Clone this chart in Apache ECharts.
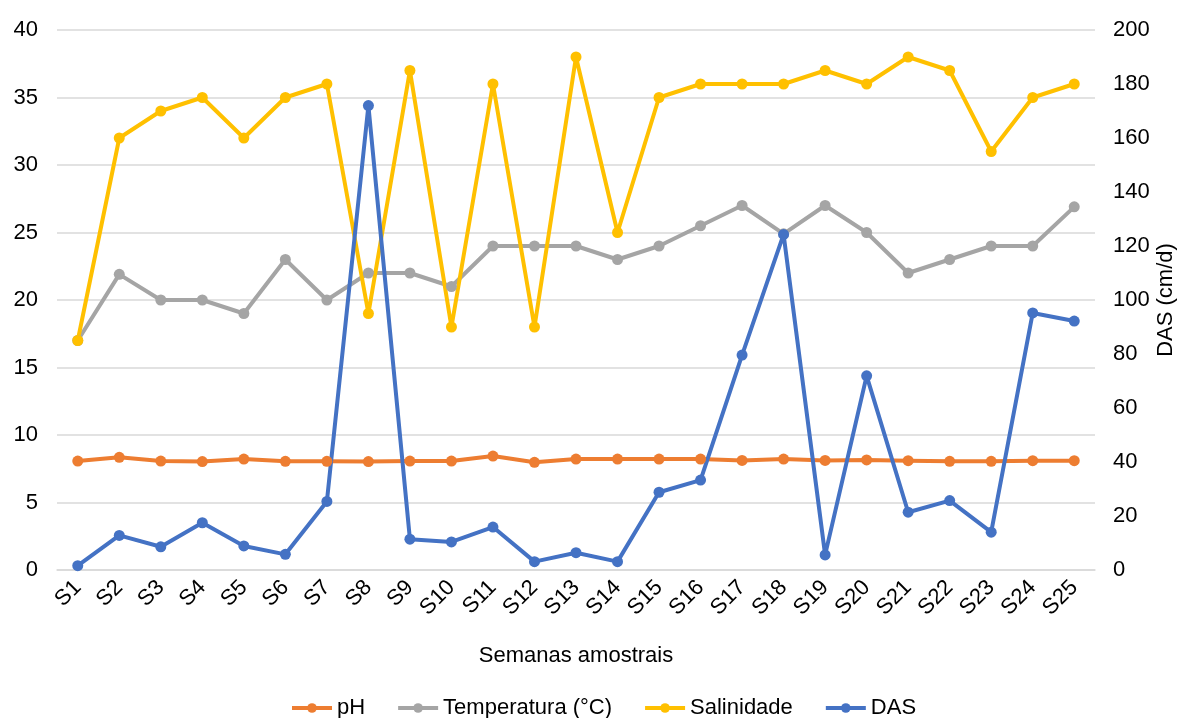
<!DOCTYPE html>
<html>
<head>
<meta charset="utf-8">
<script src="https://cdn.jsdelivr.net/npm/echarts@6/dist/echarts.min.js"></script>
<style>
html,body{margin:0;padding:0;background:#fff;}
#chart{width:1184px;height:718px;}
</style>
</head>
<body>
<div id="chart"></div>
<script>
const categories = ['S1','S2','S3','S4','S5','S6','S7','S8','S9','S10','S11','S12','S13','S14','S15','S16','S17','S18','S19','S20','S21','S22','S23','S24','S25'];
const ph = [8.07,8.35,8.07,8.03,8.22,8.05,8.05,8.03,8.07,8.07,8.44,7.98,8.22,8.22,8.22,8.22,8.12,8.22,8.12,8.15,8.1,8.05,8.05,8.1,8.1];
const temperatura = [17,21.9,20,20,19,23,20,22,22,21,24,24,24,23,24,25.5,27,24.9,27,25,22,23,24,24,26.9];
const salinidade = [17,32,34,35,32,35,36,19,37,18,36,18,38,25,35,36,36,36,37,36,38,37,31,35,36];
const das = [1.6,12.8,8.6,17.5,8.9,5.8,25.4,172,11.4,10.4,15.9,3.1,6.4,3.1,28.8,33.3,79.6,124.3,5.6,71.9,21.4,25.7,14.0,95.2,92.2];
const leftTicks = {min:0, max:40, interval:5};
const rightTicks = {min:0, max:200, interval:20};

const FONT = 'Liberation Sans, Arial, sans-serif';
const FS = 22;
function line(name, data, color, yIdx){
  return {name, type:'line', data, yAxisIndex:yIdx, symbol:'circle', symbolSize:11,
    lineStyle:{color, width:4}, itemStyle:{color}, emphasis:{disabled:true}};
}
const chart = echarts.init(document.getElementById('chart'));
chart.setOption({
  animation:false,
  textStyle:{fontFamily:FONT},
  grid:{left:57, right:89, top:30, bottom:148, containLabel:false, outerBoundsMode:'none'},
  legend:{bottom:-6, left:285, itemWidth:40, itemHeight:12, itemGap:31,
    lineStyle:{width:4},
    textStyle:{fontSize:FS, color:'#000', fontFamily:FONT},
    data:['pH','Temperatura (°C)','Salinidade','DAS']},
  xAxis:{type:'category', data:categories, boundaryGap:true,
    axisLine:{show:true, lineStyle:{color:'#D9D9D9', width:1.5}}, axisTick:{show:false},
    axisLabel:{rotate:45, fontSize:FS, color:'#000', fontFamily:FONT, margin:14, interval:0},
    name:'Semanas amostrais', nameLocation:'middle', nameGap:75,
    nameTextStyle:{fontSize:FS, color:'#000', fontFamily:FONT}},
  yAxis:[
    {type:'value', min:leftTicks.min, max:leftTicks.max, interval:leftTicks.interval,
     axisLine:{show:false}, axisTick:{show:false},
     axisLabel:{fontSize:FS, color:'#000', fontFamily:FONT, margin:19},
     splitLine:{lineStyle:{color:'#D9D9D9', width:1.5}}},
    {type:'value', min:rightTicks.min, max:rightTicks.max, interval:rightTicks.interval, position:'right',
     axisLine:{show:false}, axisTick:{show:false},
     axisLabel:{fontSize:FS, color:'#000', fontFamily:FONT, margin:18},
     splitLine:{show:false},
     name:'DAS (cm/d)', nameLocation:'middle', nameRotate:90, nameGap:60, nameMoveOverlap:false,
     nameTextStyle:{fontSize:FS, color:'#000', fontFamily:FONT}}
  ],
  series:[
    line('pH', ph, '#ED7D31', 0),
    line('Temperatura (°C)', temperatura, '#A5A5A5', 0),
    line('Salinidade', salinidade, '#FFC000', 0),
    line('DAS', das, '#4472C4', 1)
  ]
});
</script>
</body>
</html>
